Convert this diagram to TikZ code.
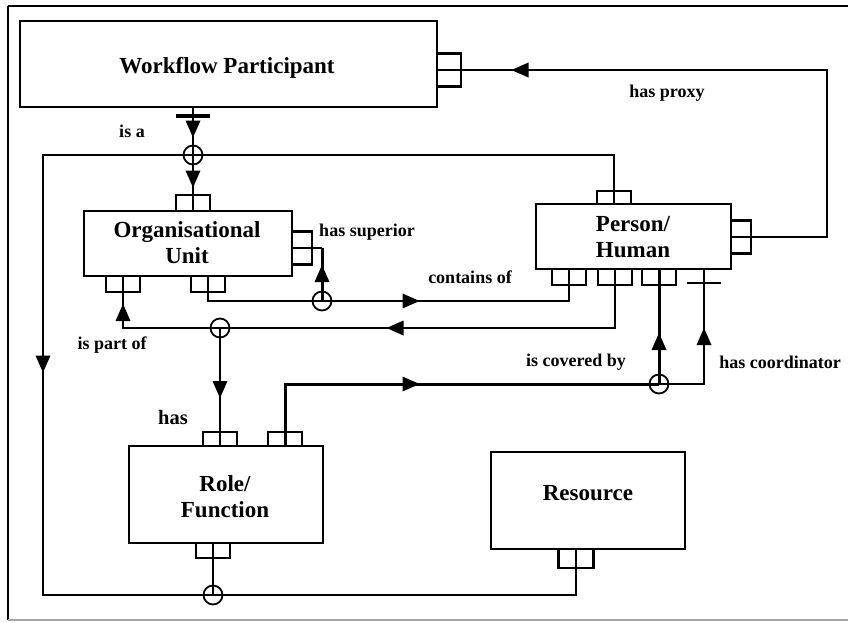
\documentclass[tikz,border=0pt]{standalone}
\usepackage{fontspec}
\setmainfont{Liberation Serif}
\begin{document}
\begin{tikzpicture}[x=1pt,y=-1pt,
 box/.style={draw, line width=1.6pt, inner sep=0pt, outer sep=0pt},
 port/.style={draw, line width=2.4pt, inner sep=0pt, outer sep=0pt, minimum width=34pt, minimum height=16pt},
 vport/.style={draw, line width=2.4pt, inner sep=0pt, outer sep=0pt, minimum width=20pt, minimum height=33pt},
 conn/.style={line width=2pt},
 thickconn/.style={line width=3pt},
 junc/.style={circle, draw, line width=1.8pt, minimum size=19pt, inner sep=0pt},
 big/.style={font=\fontsize{23}{26}\selectfont\bfseries, align=center, inner sep=0pt},
 small/.style={font=\fontsize{18}{20}\selectfont\bfseries, inner sep=0pt},
 tri/.pic={\fill (8.5,0) -- (-8.5,-7.5) -- (-8.5,7.5) -- cycle;},
 barline/.style={line width=3.2pt}
]
% canvas and frame
\fill[white] (0,0) rectangle (848,622);
\useasboundingbox (0,0) rectangle (848,622);
\draw[line width=2.6pt] (8,6) -- (848,6);
\draw[line width=1.8pt] (8,6) -- (8,620);
\draw[gray!70, line width=1.6pt] (8,620) -- (848,620);

% boxes
\node[box, minimum width=417pt, minimum height=86pt] (wp) at (228.5,64) {};
\node[box, minimum width=208pt, minimum height=65pt] (ou) at (188,243.5) {};
\node[box, minimum width=195pt, minimum height=65pt] (ph) at (633.5,236.5) {};
\node[box, minimum width=194pt, minimum height=97pt] (rf) at (226,494.5) {};
\node[box, minimum width=194pt, minimum height=97pt] (rs) at (588,500.5) {};

% box labels
\node[big] (wpl) at (227,68) {Workflow Participant};
\node[big] (oul) at (187,243) {Organisational\\Unit};
\node[big] (phl) at (633,237) {Person/\\Human};
\node[big] (rfl) at (225,497) {Role/\\Function};
\node[big] (rsl) at (588,493) {Resource};

% ports
\node[vport, minimum width=24pt] (wpR) at (449,70) {};
\node[port] (ouT) at (193,203) {};
\node[vport] (ouR) at (302,248) {};
\node[port] (ouB1) at (123,284) {};
\node[port] (ouB2) at (208,284) {};
\node[port, minimum height=13pt] (pT) at (614,197.5) {};
\node[vport] (pR) at (741,237) {};
\node[port] (pB1) at (569,277) {};
\node[port] (pB2) at (615,277) {};
\node[port] (pB3) at (659,277) {};
\node[port, minimum height=14pt] (rfT1) at (220,439) {};
\node[port, minimum height=14pt] (rfT2) at (285,439) {};
\node[port, minimum height=15pt] (rfB) at (213,550.5) {};
\node[port, minimum width=35pt, minimum height=19pt] (rsB) at (576,558.5) {};

% junctions
\node[junc] (j1) at (193,155) {};
\node[junc] (j2) at (322,301) {};
\node[junc] (j3) at (220,328) {};
\node[junc] (j4) at (659,384) {};
\node[junc] (j5) at (213,595) {};

\coordinate (tl) at (43,155);
\coordinate (bl) at (43,595);
\coordinate (pr) at (827,70);
\coordinate (pc) at (704,269);

% is a
\draw[conn] (wp.south -| ouT.center) -- (ouT.south);
\draw[barline] (176,116) -- (210,116);
\pic[rotate=-90] at (193,129) {tri};
\pic[rotate=-90] at (193,179) {tri};
\node[small] (lisa) at (132,131) {is a};

% big loop person -> resource
\draw[conn] (pT.south) |- (tl) -- (bl) -| (rsB.north);
\draw[conn] (rfB.north) -- (rfB.north |- bl);
\pic[rotate=-90] at (43,364) {tri};

% has proxy
\draw[conn] (pR.west) -| (pr) -- (wpR.west);
\pic[rotate=180] at (520,70) {tri};
\node[small] (lproxy) at (667,93) {has proxy};

% has superior
\draw[conn] (ouR.west) -- (ouR.west -| j2.center);
\draw[thickconn] (ouR.west -| j2.center) -- (j2.center);
\pic[rotate=90] at (322,273.5) {tri};
\node[small] (lsup) at (367,232) {has superior};

% contains of
\draw[conn] (ouB2.north) |- (pB1.north |- j2.center) -- (pB1.north);
\pic at (411,301) {tri};
\node[small] (lcont) at (470,277) {contains of};

% is part of
\draw[conn] (pB2.north) |- (ouB1.north |- j3.center) -- (ouB1.north);
\pic[rotate=180] at (395,328) {tri};
\pic[rotate=90] at (123,312.5) {tri};
\node[small] (lpart) at (112,345) {is part of};

% has
\draw[conn] (j3.center) -- (rfT1.south);
\pic[rotate=-90] at (220,389.5) {tri};
\node[small, font=\fontsize{20.5}{22}\selectfont\bfseries] (lhas) at (173,417) {has};

% is covered by / has coordinator
\draw[thickconn] (rfT2.south) |- (j4.center);
\draw[conn] (j4.center) -| (pc);
\draw[thickconn] (j4.center) -- (pB3.north);
\draw[line width=2.4pt] (687,283) -- (721,283);
\pic at (411,384) {tri};
\pic[rotate=90] at (659,341.5) {tri};
\pic[rotate=90] at (704,336.5) {tri};
\node[small] (lcov) at (576,362) {is covered by};
\node[small] (lcoord) at (780,362) {has coordinator};
\end{tikzpicture}
\end{document}
